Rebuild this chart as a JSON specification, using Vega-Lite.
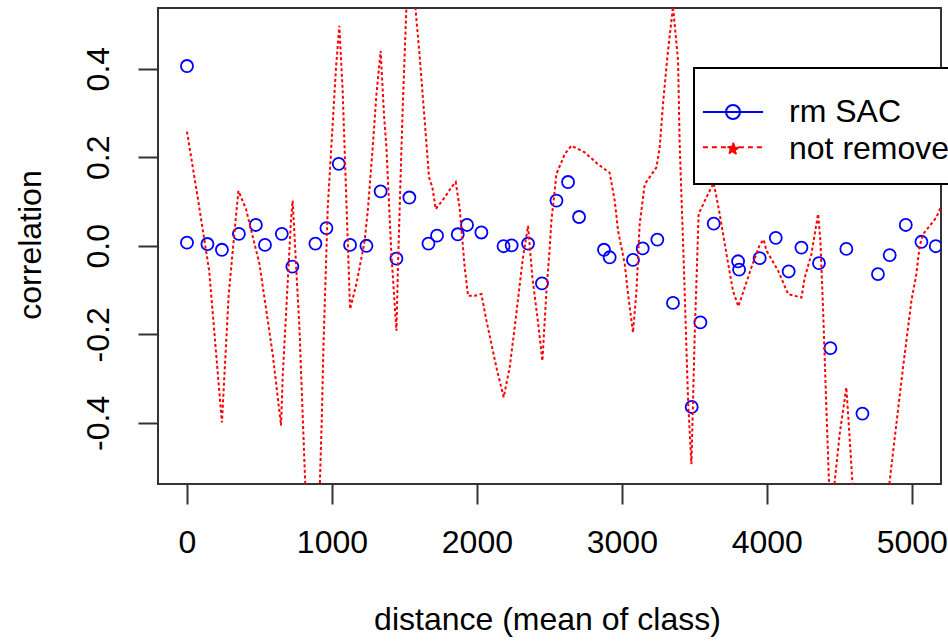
{
  "$schema": "https://vega.github.io/schema/vega-lite/v6.json",
  "autosize": {"type": "none"},
  "width": 783,
  "height": 476,
  "padding": {"left": 158, "top": 8, "right": 7, "bottom": 157},
  "background": "white",
  "datasets": {
    "rm": [
      {"s":"rm SAC","d":0,"r":0.406},{"s":"rm SAC","d":0,"r":0.007},{"s":"rm SAC","d":141,"r":0.004},{"s":"rm SAC","d":241,"r":-0.009},
      {"s":"rm SAC","d":358,"r":0.027},{"s":"rm SAC","d":475,"r":0.047},{"s":"rm SAC","d":538,"r":0.002},{"s":"rm SAC","d":654,"r":0.027},
      {"s":"rm SAC","d":727,"r":-0.047},{"s":"rm SAC","d":886,"r":0.005},{"s":"rm SAC","d":962,"r":0.040},{"s":"rm SAC","d":1047,"r":0.185},
      {"s":"rm SAC","d":1125,"r":0.002},{"s":"rm SAC","d":1238,"r":0.0},{"s":"rm SAC","d":1336,"r":0.123},{"s":"rm SAC","d":1445,"r":-0.029},
      {"s":"rm SAC","d":1534,"r":0.109},{"s":"rm SAC","d":1666,"r":0.005},{"s":"rm SAC","d":1725,"r":0.023},{"s":"rm SAC","d":1868,"r":0.026},
      {"s":"rm SAC","d":1932,"r":0.047},{"s":"rm SAC","d":2031,"r":0.030},{"s":"rm SAC","d":2184,"r":-0.001},{"s":"rm SAC","d":2240,"r":0.001},
      {"s":"rm SAC","d":2353,"r":0.005},{"s":"rm SAC","d":2449,"r":-0.085},{"s":"rm SAC","d":2549,"r":0.102},{"s":"rm SAC","d":2629,"r":0.144},
      {"s":"rm SAC","d":2705,"r":0.065},{"s":"rm SAC","d":2877,"r":-0.009},{"s":"rm SAC","d":2916,"r":-0.026},{"s":"rm SAC","d":3077,"r":-0.032},
      {"s":"rm SAC","d":3144,"r":-0.006},{"s":"rm SAC","d":3245,"r":0.014},{"s":"rm SAC","d":3353,"r":-0.129},{"s":"rm SAC","d":3482,"r":-0.364},
      {"s":"rm SAC","d":3542,"r":-0.173},{"s":"rm SAC","d":3634,"r":0.050},{"s":"rm SAC","d":3802,"r":-0.035},{"s":"rm SAC","d":3809,"r":-0.054},
      {"s":"rm SAC","d":3951,"r":-0.028},{"s":"rm SAC","d":4062,"r":0.018},{"s":"rm SAC","d":4151,"r":-0.058},{"s":"rm SAC","d":4239,"r":-0.004},
      {"s":"rm SAC","d":4360,"r":-0.039},{"s":"rm SAC","d":4439,"r":-0.231},{"s":"rm SAC","d":4549,"r":-0.007},{"s":"rm SAC","d":4660,"r":-0.379},
      {"s":"rm SAC","d":4767,"r":-0.064},{"s":"rm SAC","d":4848,"r":-0.021},{"s":"rm SAC","d":4959,"r":0.047},{"s":"rm SAC","d":5067,"r":0.009},
      {"s":"rm SAC","d":5166,"r":-0.001}
    ],
    "nr": [
      {"s":"not remove","d":0,"r":0.258},{"s":"not remove","d":74,"r":0.109},{"s":"not remove","d":153,"r":-0.056},{"s":"not remove","d":241,"r":-0.399},
      {"s":"not remove","d":288,"r":-0.109},{"s":"not remove","d":334,"r":0.053},{"s":"not remove","d":355,"r":0.124},{"s":"not remove","d":407,"r":0.083},
      {"s":"not remove","d":500,"r":-0.041},{"s":"not remove","d":591,"r":-0.244},{"s":"not remove","d":649,"r":-0.406},{"s":"not remove","d":660,"r":-0.297},
      {"s":"not remove","d":718,"r":0.060},{"s":"not remove","d":729,"r":0.102},{"s":"not remove","d":776,"r":-0.188},{"s":"not remove","d":872,"r":-1.03},
      {"s":"not remove","d":931,"r":-0.380},{"s":"not remove","d":941,"r":-0.233},{"s":"not remove","d":971,"r":0.086},{"s":"not remove","d":1028,"r":0.402},
      {"s":"not remove","d":1051,"r":0.497},{"s":"not remove","d":1074,"r":0.350},{"s":"not remove","d":1109,"r":0.011},{"s":"not remove","d":1125,"r":-0.143},
      {"s":"not remove","d":1169,"r":-0.086},{"s":"not remove","d":1226,"r":0.011},{"s":"not remove","d":1249,"r":0.086},{"s":"not remove","d":1283,"r":0.230},
      {"s":"not remove","d":1307,"r":0.342},{"s":"not remove","d":1336,"r":0.440},{"s":"not remove","d":1359,"r":0.297},{"s":"not remove","d":1376,"r":0.222},
      {"s":"not remove","d":1410,"r":-0.019},{"s":"not remove","d":1445,"r":-0.192},{"s":"not remove","d":1456,"r":-0.041},{"s":"not remove","d":1479,"r":0.214},
      {"s":"not remove","d":1490,"r":0.327},{"s":"not remove","d":1532,"r":0.70},{"s":"not remove","d":1605,"r":0.429},{"s":"not remove","d":1640,"r":0.282},
      {"s":"not remove","d":1670,"r":0.154},{"s":"not remove","d":1693,"r":0.132},{"s":"not remove","d":1716,"r":0.083},{"s":"not remove","d":1778,"r":0.109},
      {"s":"not remove","d":1824,"r":0.132},{"s":"not remove","d":1854,"r":0.144},{"s":"not remove","d":1881,"r":0.086},{"s":"not remove","d":1916,"r":-0.049},
      {"s":"not remove","d":1939,"r":-0.113},{"s":"not remove","d":1985,"r":-0.113},{"s":"not remove","d":2031,"r":-0.109},{"s":"not remove","d":2066,"r":-0.169},
      {"s":"not remove","d":2135,"r":-0.275},{"s":"not remove","d":2185,"r":-0.342},{"s":"not remove","d":2226,"r":-0.275},{"s":"not remove","d":2261,"r":-0.184},
      {"s":"not remove","d":2318,"r":-0.026},{"s":"not remove","d":2353,"r":0.045},{"s":"not remove","d":2383,"r":-0.072},{"s":"not remove","d":2422,"r":-0.173},
      {"s":"not remove","d":2452,"r":-0.26},{"s":"not remove","d":2480,"r":-0.102},{"s":"not remove","d":2502,"r":-0.007},{"s":"not remove","d":2514,"r":0.056},
      {"s":"not remove","d":2549,"r":0.162},{"s":"not remove","d":2606,"r":0.207},{"s":"not remove","d":2652,"r":0.226},{"s":"not remove","d":2744,"r":0.211},
      {"s":"not remove","d":2836,"r":0.184},{"s":"not remove","d":2916,"r":0.165},{"s":"not remove","d":2951,"r":0.102},{"s":"not remove","d":2974,"r":0.034},
      {"s":"not remove","d":3020,"r":-0.041},{"s":"not remove","d":3043,"r":-0.109},{"s":"not remove","d":3077,"r":-0.196},{"s":"not remove","d":3101,"r":-0.102},
      {"s":"not remove","d":3123,"r":0.049},{"s":"not remove","d":3158,"r":0.139},{"s":"not remove","d":3239,"r":0.177},{"s":"not remove","d":3261,"r":0.222},
      {"s":"not remove","d":3284,"r":0.320},{"s":"not remove","d":3315,"r":0.429},{"s":"not remove","d":3353,"r":0.54},{"s":"not remove","d":3388,"r":0.418},
      {"s":"not remove","d":3399,"r":0.230},{"s":"not remove","d":3429,"r":-0.056},{"s":"not remove","d":3457,"r":-0.350},{"s":"not remove","d":3480,"r":-0.493},
      {"s":"not remove","d":3503,"r":-0.199},{"s":"not remove","d":3530,"r":0.072},{"s":"not remove","d":3595,"r":0.117},{"s":"not remove","d":3634,"r":0.142},
      {"s":"not remove","d":3675,"r":0.072},{"s":"not remove","d":3722,"r":-0.019},{"s":"not remove","d":3767,"r":-0.102},{"s":"not remove","d":3804,"r":-0.137},
      {"s":"not remove","d":3848,"r":-0.094},{"s":"not remove","d":3894,"r":-0.049},{"s":"not remove","d":3951,"r":0.002},{"s":"not remove","d":3978,"r":0.014},
      {"s":"not remove","d":3998,"r":-0.011},{"s":"not remove","d":4078,"r":-0.056},{"s":"not remove","d":4147,"r":-0.109},{"s":"not remove","d":4239,"r":-0.117},
      {"s":"not remove","d":4262,"r":-0.072},{"s":"not remove","d":4308,"r":-0.019},{"s":"not remove","d":4354,"r":0.072},{"s":"not remove","d":4370,"r":0.011},
      {"s":"not remove","d":4388,"r":-0.139},{"s":"not remove","d":4411,"r":-0.365},{"s":"not remove","d":4439,"r":-0.625},{"s":"not remove","d":4503,"r":-0.425},
      {"s":"not remove","d":4549,"r":-0.320},{"s":"not remove","d":4567,"r":-0.410},{"s":"not remove","d":4680,"r":-1.0},{"s":"not remove","d":4905,"r":-0.372},
      {"s":"not remove","d":4940,"r":-0.275},{"s":"not remove","d":4998,"r":-0.124},{"s":"not remove","d":5032,"r":-0.064},{"s":"not remove","d":5055,"r":0.0},
      {"s":"not remove","d":5078,"r":0.026},{"s":"not remove","d":5170,"r":0.064},{"s":"not remove","d":5230,"r":0.11}
    ]
  },
  "encoding": {
    "x": {
      "field": "d", "type": "quantitative",
      "scale": {"domain": [-200, 5202], "nice": false, "zero": false},
      "axis": {
        "values": [0, 1000, 2000, 3000, 4000, 5000],
        "format": "d",
        "labelAngle": 0,
        "labelBaseline": "top",
        "labelPadding": 23,
        "labelFlush": false,
        "labelOverlap": false,
        "title": "distance (mean of class)",
        "titleBaseline": "alphabetic",
        "titleAlign": "center",
        "titleX": 389,
        "titleY": 145
      }
    },
    "y": {
      "field": "r", "type": "quantitative",
      "scale": {"domain": [-0.538, 0.537], "nice": false, "zero": false},
      "axis": {
        "values": [-0.4, -0.2, 0, 0.2, 0.4],
        "labelExpr": "replace(format(datum.value, '.1f'), '\u2212', '-')",
        "labelAngle": 270,
        "labelAlign": "center",
        "labelBaseline": "alphabetic",
        "labelPadding": 30,
        "labelFlush": false,
        "labelOverlap": false,
        "title": "correlation",
        "titleAngle": 270,
        "titleBaseline": "alphabetic",
        "titleAlign": "center",
        "titleX": -118,
        "titleY": 236.5
      }
    },
    "color": {
      "field": "s", "type": "nominal",
      "scale": {"domain": ["rm SAC", "not remove"], "range": ["blue", "red"]},
      "legend": {
        "title": " ",
        "titleFontSize": 10,
        "titlePadding": 10,
        "orient": "none",
        "legendX": 536,
        "legendY": 60,
        "padding": 8,
        "rowPadding": 5,
        "strokeColor": "black",
        "fillColor": "white",
        "cornerRadius": 0,
        "symbolSize": 196,
        "symbolStrokeWidth": 2,
        "symbolOffset": 15,
        "labelOffset": 40,
        "labelFont": "Liberation Sans",
        "labelFontSize": 32,
        "labelColor": "black",
        "labelLimit": 400,
        "encode": {
          "legend": {"update": {"strokeWidth": {"value": 2}}},
          "symbols": {"update": {
            "shape": [
              {"test": "datum.value === 'rm SAC'", "value": "M-4.3,0L4.3,0M1,0A1,1,0,1,1,-1,0A1,1,0,1,1,1,0"},
              {"value": "M-4.3,-0.25L4.3,-0.25M0,-0.9L0.223,-0.307L0.856,-0.278L0.361,0.117L0.529,0.728L0,0.38L-0.529,0.728L-0.361,0.117L-0.856,-0.278L-0.223,-0.307ZM0,3.18"}
            ],
            "stroke": [{"test": "datum.value === 'rm SAC'", "value": "blue"}, {"value": "red"}],
            "fill": [{"test": "datum.value === 'rm SAC'", "value": "transparent"}, {"value": "red"}],
            "strokeDash": [{"test": "datum.value === 'rm SAC'", "value": [100, 0]}, {"value": [5, 4]}],
            "strokeWidth": {"value": 2},
            "opacity": {"value": 1}
          }}
        }
      }
    }
  },
  "layer": [
    {
      "data": {"name": "rm"},
      "mark": {"type": "point", "shape": "circle", "filled": false, "size": 145, "strokeWidth": 1.8, "opacity": 1, "clip": true}
    },
    {
      "data": {"name": "nr"},
      "mark": {"type": "line", "strokeWidth": 2, "strokeDash": [3, 2.5], "clip": true}
    }
  ],
  "config": {
    "font": "Liberation Sans",
    "view": {"stroke": "#333333", "strokeWidth": 2},
    "axis": {
      "grid": false,
      "domain": false,
      "ticks": true,
      "tickColor": "#333333",
      "tickWidth": 2,
      "tickSize": 20,
      "labelFont": "Liberation Sans",
      "labelFontSize": 32,
      "labelColor": "black",
      "titleFont": "Liberation Sans",
      "titleFontSize": 32,
      "titleFontWeight": "normal",
      "titleColor": "black"
    }
  }
}
